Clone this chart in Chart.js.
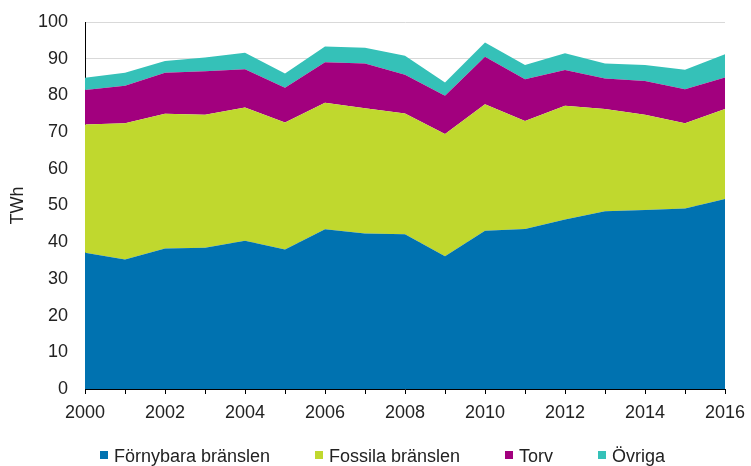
<!DOCTYPE html>
<html>
<head>
<meta charset="utf-8">
<script src="https://cdn.jsdelivr.net/npm/chart.js@4/dist/chart.umd.min.js"></script>
<style>
html,body{margin:0;padding:0;background:#fff;}
#wrap{width:751px;height:466px;position:relative;}
</style>
</head>
<body>
<div id="wrap"><canvas id="c" width="751" height="466"></canvas></div>
<script>
const years = ['2000','2001','2002','2003','2004','2005','2006','2007','2008','2009','2010','2011','2012','2013','2014','2015','2016'];
const fornybara = [37.1,35.3,38.3,38.5,40.4,38.0,43.5,42.4,42.2,36.2,43.1,43.6,46.2,48.4,48.8,49.2,51.8];
const fossila   = [35.0,37.1,36.7,36.2,36.3,34.6,34.5,34.1,32.9,33.3,34.5,29.4,31.0,27.9,25.9,23.2,24.5];
const torv      = [9.4,10.2,11.2,11.9,10.4,9.5,11.0,12.2,10.5,10.4,12.9,11.4,9.7,8.3,9.2,9.3,8.6];
const ovriga    = [3.3,3.6,3.2,3.7,4.5,3.9,4.3,4.3,5.2,3.6,3.9,3.9,4.6,4.1,4.4,5.3,6.3];
const seriesNames = ['Förnybara bränslen','Fossila bränslen','Torv','Övriga'];
const yTicks = [0,10,20,30,40,50,60,70,80,90,100];

const colors = ['#0072B0','#C0D82E','#A2007E','#35C1B8'];
const data = [fornybara, fossila, torv, ovriga];

const FONT = "'Liberation Sans', Arial, sans-serif";
const FS = 18;

const bottomLegend = {
  id: 'bottomLegend',
  afterDraw(chart) {
    const ctx = chart.ctx;
    ctx.save();
    ctx.font = FS + 'px ' + FONT;
    ctx.textBaseline = 'middle';
    const box = 8, boxGap = 6, itemGap = 45, cy = 457;
    const items = chart.data.datasets.map(ds => ({ text: ds.label, color: ds.backgroundColor, w: ctx.measureText(ds.label).width }));
    const total = items.reduce((s, it) => s + box + boxGap + it.w, 0) + itemGap * (items.length - 1);
    let x = 382.5 - total / 2;
    items.forEach(it => {
      ctx.fillStyle = it.color;
      ctx.fillRect(Math.round(x), cy - 6, box, box);
      x += box + boxGap;
      ctx.fillStyle = '#222';
      ctx.textAlign = 'left';
      ctx.fillText(it.text, x, cy);
      x += it.w + itemGap;
    });
    ctx.restore();
  }
};

new Chart(document.getElementById('c'), {
  type: 'line',
  data: {
    labels: years,
    datasets: data.map((d, i) => ({
      label: seriesNames[i],
      data: d,
      backgroundColor: colors[i],
      borderColor: colors[i],
      borderWidth: 0,
      pointRadius: 0,
      fill: i === 0 ? 'origin' : '-1',
      tension: 0
    }))
  },
  plugins: [bottomLegend],
  options: {
    responsive: false,
    animation: false,
    layout: { padding: { top: 22, right: 26, left: 7, bottom: 42 } },
    plugins: {
      tooltip: { enabled: false },
      legend: { display: false }
    },
    scales: {
      x: {
        type: 'category',
        offset: false,
        grid: { drawOnChartArea: false, drawTicks: true, tickLength: 5, color: '#000', lineWidth: 1 },
        border: { display: true, color: '#000', width: 1 },
        ticks: {
          autoSkip: false,
          maxRotation: 0,
          padding: 8,
          font: { family: FONT, size: FS },
          color: '#222',
          callback: function(v, i) { return i % 2 === 0 ? years[i] : ''; }
        },
        afterFit: s => { s.height = 35; s.paddingLeft = 0; s.paddingRight = 0; }
      },
      y: {
        stacked: true,
        min: 0, max: 100,
        afterBuildTicks: s => { s.ticks = yTicks.map(v => ({ value: v })); },
        grid: { drawTicks: false, color: '#d9d9d9', lineWidth: 1 },
        border: { display: true, color: '#000', width: 1 },
        ticks: { padding: 17, font: { family: FONT, size: FS }, color: '#222' },
        title: { display: true, text: 'TWh', font: { family: FONT, size: FS }, color: '#222', padding: 0 },
        afterFit: s => { s.width = 78; s.paddingTop = 0; s.paddingBottom = 0; }
      }
    }
  }
});
</script>
</body>
</html>
